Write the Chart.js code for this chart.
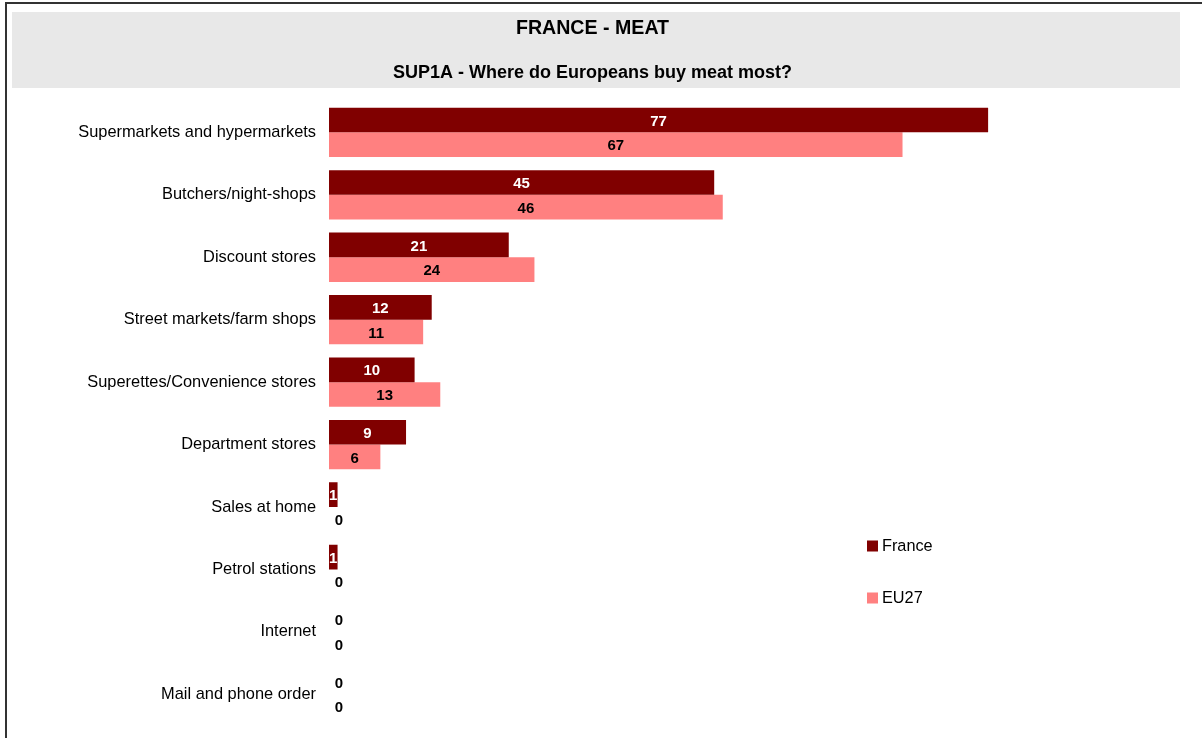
<!DOCTYPE html>
<html>
<head>
<meta charset="utf-8">
<script src="https://cdn.jsdelivr.net/npm/chart.js@4"></script>
<style>
  html, body { margin: 0; padding: 0; background: #fff; }
  #wrap { width: 1202px; height: 738px; }
</style>
</head>
<body>
<div id="wrap"><canvas id="chart" width="1202" height="738"></canvas></div>
<script>
const categories = [
  'Supermarkets and hypermarkets',
  'Butchers/night-shops',
  'Discount stores',
  'Street markets/farm shops',
  'Superettes/Convenience stores',
  'Department stores',
  'Sales at home',
  'Petrol stations',
  'Internet',
  'Mail and phone order'
];
const franceValues = [77, 45, 21, 12, 10, 9, 1, 1, 0, 0];
const eu27Values = [67, 46, 24, 11, 13, 6, 0, 0, 0, 0];

const FONT = 'Arial, "Liberation Sans", sans-serif';

// grey header band and the frame lines
const frame = {
  id: 'frame',
  beforeDraw(chart) {
    const ctx = chart.ctx;
    ctx.save();
    ctx.fillStyle = '#e8e8e8';
    ctx.fillRect(12, 12, 1168, 76);
    ctx.fillStyle = '#333';
    ctx.fillRect(5, 2, 1197, 2);
    ctx.fillRect(5, 2, 2, 736);
    ctx.restore();
  }
};

// value labels centred in each bar
const barLabels = {
  id: 'barLabels',
  afterDatasetsDraw(chart) {
    const ctx = chart.ctx;
    ctx.save();
    ctx.font = 'bold 15px ' + FONT;
    ctx.textAlign = 'center';
    ctx.textBaseline = 'middle';
    chart.data.datasets.forEach((ds, i) => {
      const meta = chart.getDatasetMeta(i);
      meta.data.forEach((bar, j) => {
        const v = ds.data[j];
        const x = v === 0 ? bar.base + 10 : (bar.base + bar.x) / 2;
        ctx.fillStyle = (v === 0 || i === 1) ? '#000' : '#fff';
        ctx.fillText(String(v), x, bar.y + 1.5);
      });
    });
    ctx.restore();
  }
};

// legend entries on the right-hand side
const sideLegend = {
  id: 'sideLegend',
  afterDraw(chart) {
    const ctx = chart.ctx;
    ctx.save();
    ctx.font = '16.3px ' + FONT;
    ctx.textBaseline = 'middle';
    ctx.textAlign = 'left';
    const rows = [546, 598];
    chart.data.datasets.forEach((ds, i) => {
      const y = rows[i];
      ctx.fillStyle = ds.backgroundColor;
      ctx.fillRect(867, y - 5.5, 11, 11);
      ctx.fillStyle = '#000';
      ctx.fillText(ds.label, 882, y + 1);
    });
    ctx.restore();
  }
};

new Chart(document.getElementById('chart'), {
  type: 'bar',
  data: {
    labels: categories,
    datasets: [
      { label: 'France', data: franceValues, backgroundColor: '#800000', borderWidth: 0 },
      { label: 'EU27', data: eu27Values, backgroundColor: '#ff8080', borderWidth: 0 }
    ]
  },
  options: {
    indexAxis: 'y',
    responsive: false,
    animation: false,
    events: [],
    barPercentage: 1.0,
    categoryPercentage: 0.79,
    layout: { padding: { left: 0, right: 17, top: 0, bottom: 12.4 } },
    scales: {
      x: { display: false, min: 0, max: 100 },
      y: {
        grid: { display: false, drawTicks: false },
        border: { display: false },
        ticks: { color: '#000', font: { family: FONT, size: 16.4 }, padding: 13, autoSkip: false },
        afterFit(scale) {
          scale.width = 329;
          scale.paddingTop = 0;
          scale.paddingBottom = 0;
        }
      }
    },
    plugins: {
      legend: { display: false },
      tooltip: { enabled: false },
      title: {
        display: true,
        text: 'FRANCE - MEAT',
        color: '#000',
        font: { family: FONT, size: 19.6, weight: 'bold', lineHeight: 1.2 },
        padding: { top: 17, bottom: 22 }
      },
      subtitle: {
        display: true,
        text: 'SUP1A - Where do Europeans buy meat most?',
        color: '#000',
        font: { family: FONT, size: 18, weight: 'bold', lineHeight: 1.2 },
        padding: { top: 0, bottom: 17 }
      }
    }
  },
  plugins: [frame, barLabels, sideLegend]
});
</script>
</body>
</html>
